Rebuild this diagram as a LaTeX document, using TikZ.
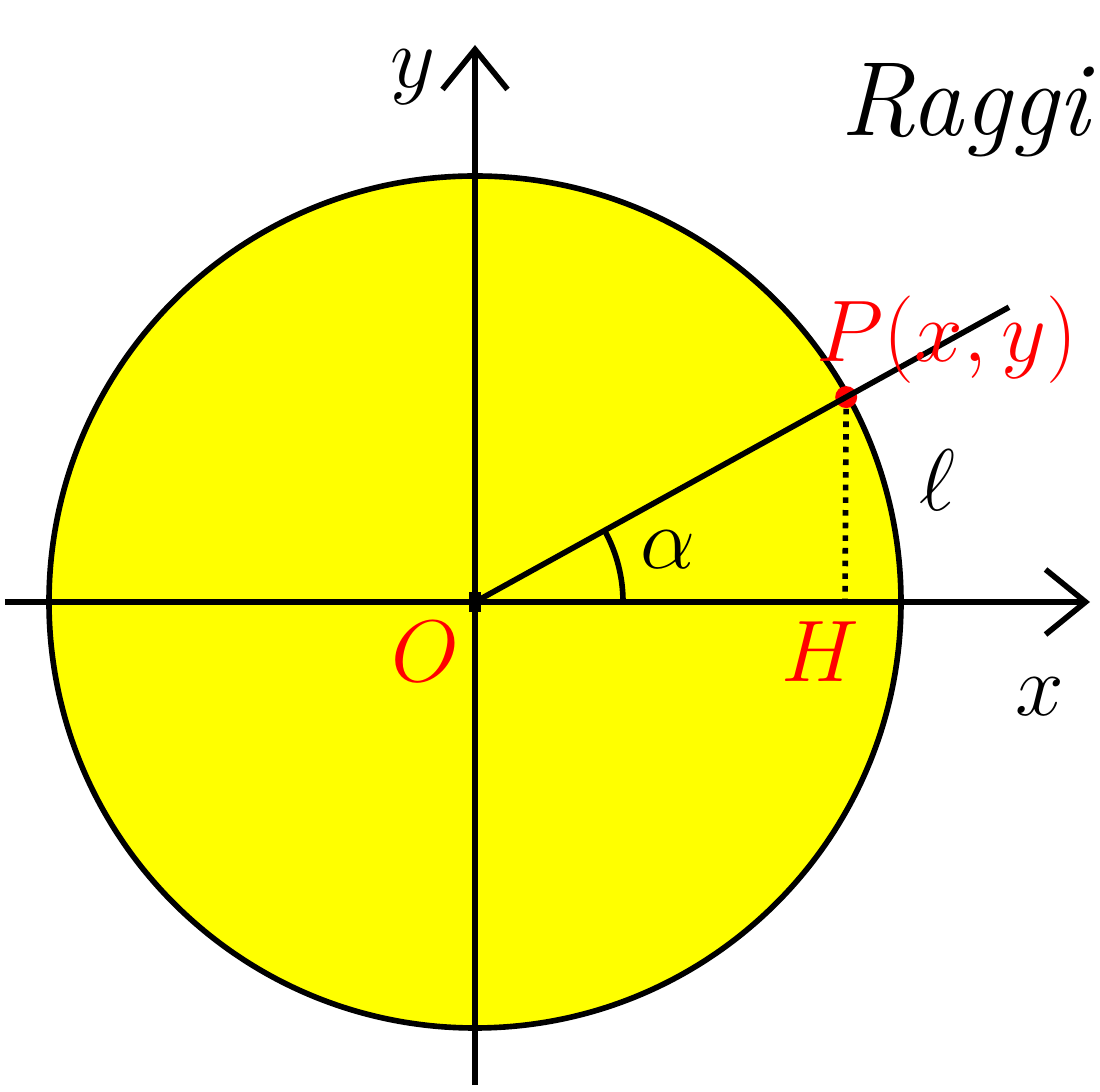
\documentclass[tikz,border=0pt]{standalone}
\usetikzlibrary{arrows.meta}
\definecolor{giallo}{RGB}{255,255,0}
\tikzset{
  asse/.style    = {line width=1.6pt, -{Straight Barb[length=4mm,width=6.5mm]}},
  tratto/.style  = {line width=1.6pt},
  etich/.style   = {font=\fontsize{32}{36}\selectfont},
  rossa/.style   = {font=\fontsize{24}{28}\selectfont, text=red},
  punto/.style   = {circle, fill=red, inner sep=0pt, minimum size=2.2mm},
  origine/.style = {rectangle, fill=black, inner sep=0pt, minimum width=1.2mm, minimum height=2mm}
}

\begin{document}
\begin{tikzpicture}
  \useasboundingbox (-4.75,-4.90) rectangle (6.25,6.02);

  % cerchio
  \filldraw[fill=giallo, tratto] (0,0) circle (4.26);

  % punti
  \coordinate (O) at (0,0);
  \coordinate (H) at (3.70,0);
  \coordinate (xs) at (-4.70,0);
  \coordinate (xe) at (6.15,0);
  \coordinate (ys) at (0,-4.83);
  \coordinate (ye) at (0,5.57);
  \coordinate (R)  at (28.9:6.1);
  \node[punto] (P) at (28.9:4.24) {};

  % assi
  \draw[asse] (xs) -- (xe);
  \draw[asse] (ys) -- (ye);
  \node[origine] at (O) {};

  % raggio e proiezione
  \draw[tratto] (O) -- (P.center) -- (R);
  \draw[tratto, dotted] (P) -- (H);
  \draw[tratto] (1.48,0) arc (0:28.9:1.48);

  % etichette
  \node[etich] (ly) at (-0.62,5.25) {$y$};
  \node[etich] (lx) at (5.65,-0.95) {$x$};
  \node[etich] (ll) at (4.62,1.22) {$\ell$};
  \node[etich, font=\fontsize{26}{30}\selectfont] (la) at (1.93,0.52) {$\alpha$};
  \node[rossa] (lO) at (-0.5,-0.5) {$O$};
  \node[rossa] (lH) at (3.45,-0.5) {$H$};
  \node[rossa, font=\fontsize{30}{34}\selectfont] (lP) at (4.72,2.62) {$P(x,y)$};
  \node[etich, font=\fontsize{30}{34}\selectfont\itshape] (raggi) at (4.9,4.92) {Raggi};

\end{tikzpicture}
\end{document}
